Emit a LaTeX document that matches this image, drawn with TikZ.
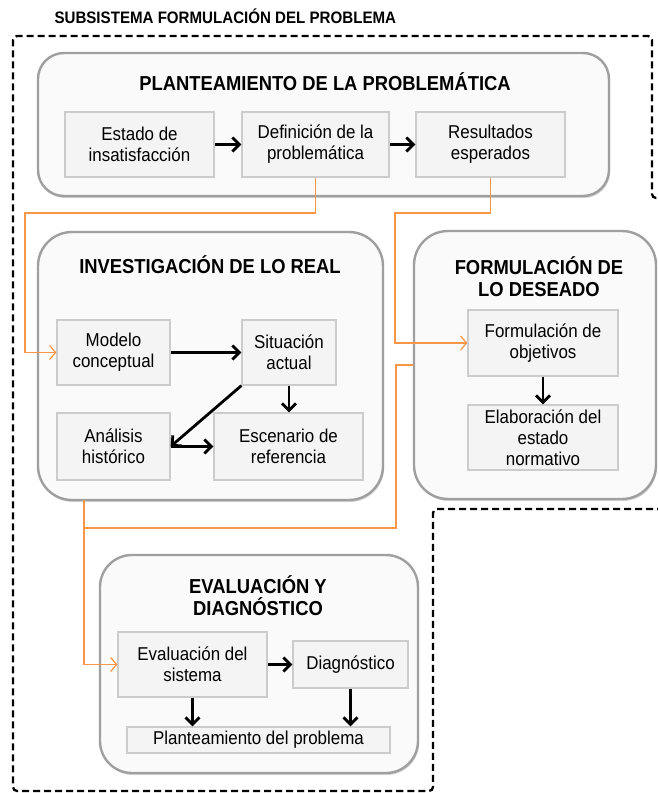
\documentclass[tikz,border=0pt]{standalone}
\usepackage{fontspec}
\setmainfont{Liberation Sans}[FakeStretch=0.91]
\usetikzlibrary{arrows.meta,shadows}
\definecolor{naranja}{HTML}{F79646}

\begin{document}
\begin{tikzpicture}[x=1pt,y=-1pt]
\tikzstyle{fase}=[
  draw=gray!75, line width=2.4pt,
  fill=gray!4,
  rounded corners=26pt,
  drop shadow={shadow xshift=1pt,shadow yshift=-2pt,opacity=.35} ]
\tikzstyle{paso}=[
  draw=gray!40, line width=1.2pt,
  fill=gray!9,
  inner sep=0pt, align=center,
  font=\fontsize{18.6}{21}\selectfont ]
\tikzstyle{titulo}=[align=center, font=\bfseries\fontsize{20.2}{22}\selectfont]
\tikzstyle{flecha}=[line width=2.8pt, -{Straight Barb[length=7pt,width=14pt]}]
\tikzstyle{enlace}=[draw=naranja, line width=1.2pt]
\tikzstyle{entrada}=[enlace, -{Straight Barb[length=6pt,width=14pt]}]
\useasboundingbox (0,0) rectangle (658,793);

\node[anchor=west, font=\bfseries\fontsize{16.6}{19}\selectfont] (sub) at (51,16)
  {SUBSISTEMA FORMULACIÓN DEL PROBLEMA};
\draw[line width=2.3pt, dash pattern=on 7pt off 4pt, rounded corners=4pt]
  (664,509) -- (433,509) -- (433,791) -- (13,791) -- (13,36)
  -- (652,36) -- (652,198) -- (664,198);

\node[fase, minimum width=571pt, minimum height=143pt] (plant) at (323.5,124.5) {};
\node[fase, minimum width=345pt, minimum height=268pt, rounded corners=34pt] (real) at (210.5,366) {};
\node[fase, minimum width=242pt, minimum height=268pt, rounded corners=34pt] (desead) at (535,365) {};
\node[fase, minimum width=318pt, minimum height=218pt, rounded corners=32pt] (eval) at (259,664) {};

\node[titulo] (tplant) at (325,82) {PLANTEAMIENTO DE LA PROBLEMÁTICA};
\node[titulo] (treal) at (210,265) {INVESTIGACIÓN DE LO REAL};
\node[titulo] (tdesead) at (539,277) {FORMULACIÓN DE\\LO DESEADO};
\node[titulo] (teval) at (258,596) {EVALUACIÓN Y\\DIAGNÓSTICO};

\node[paso, minimum width=149pt, minimum height=65pt] (estado) at (139.5,144.5) {Estado de\\insatisfacción};
\node[paso, minimum width=147pt, minimum height=65pt] (defin) at (315.5,144.5) {Definición de la\\problemática};
\node[paso, minimum width=149pt, minimum height=65pt] (result) at (490.5,144.5) {Resultados\\esperados};

\node[paso, minimum width=113pt, minimum height=65pt] (modelo) at (113.5,352.5) {Modelo\\conceptual};
\node[paso, minimum width=94pt, minimum height=65pt] (situa) at (289,352.5) {Situación\\actual};
\node[paso, minimum width=113pt, minimum height=67pt] (analisis) at (113.5,446.5) {Análisis\\histórico};
\node[paso, minimum width=149pt, minimum height=67pt] (escen) at (288.5,446.5) {Escenario de\\referencia};

\node[paso, minimum width=150pt, minimum height=66pt] (objet) at (543,343) {Formulación de\\objetivos};
\node[paso, minimum width=150pt, minimum height=65pt] (elab) at (543,437.5) {Elaboración del\\estado\\normativo};

\node[paso, minimum width=149pt, minimum height=65pt] (sistema) at (192.5,664.5) {Evaluación del\\sistema};
\node[paso, minimum width=115pt, minimum height=47pt] (diagn) at (350.5,664.5) {Diagnóstico};
\node[paso, minimum width=263pt, minimum height=26pt] (plprob) at (258.5,740) {Planteamiento del problema};

\draw[flecha] (estado) -- (defin);
\draw[flecha] (defin) -- (result);
\draw[flecha] (modelo) -- (situa);
\draw[flecha] (situa.south) -- (situa.south |- escen.north);
\draw[flecha] (situa.south west) -- (analisis.east);
\draw[flecha] (analisis) -- (escen);
\draw[flecha] (objet) -- (elab);
\draw[flecha] (sistema) -- (diagn);
\draw[flecha] (sistema.south) -- (sistema.south |- plprob.north);
\draw[flecha] (diagn.south) -- (diagn.south |- plprob.north);

\coordinate (salida) at (84,500);
\coordinate (union) at (84,528);
\draw[entrada] (defin.south) |- (25,213) |- (modelo.west);
\draw[entrada] (result.south) |- (395,213) |- (objet.west);
\draw[enlace] (desead.west) -| (396,528) -- (union);
\draw[entrada] (salida) |- (sistema.west);
\end{tikzpicture}
\end{document}
